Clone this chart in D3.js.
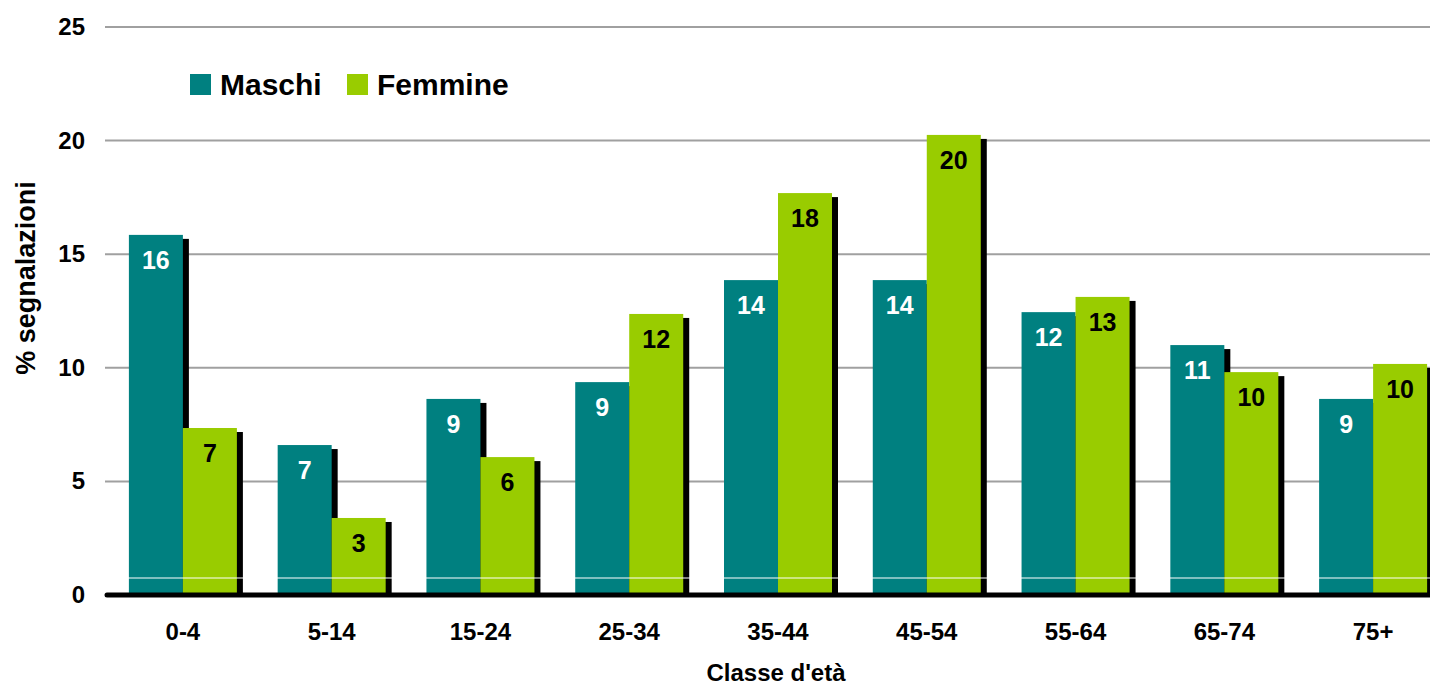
<!DOCTYPE html>
<html>
<head>
<meta charset="UTF-8">
<title>Segnalazioni per classe d'età</title>
<script src="https://cdn.jsdelivr.net/npm/d3@7"></script>
<style>
  body { margin: 0; background: #fff; }
  text { font-family: "Liberation Sans", Arial, sans-serif; font-weight: bold; }
</style>
</head>
<body>
<script>
var categories = ["0-4", "5-14", "15-24", "25-34", "35-44", "45-54", "55-64", "65-74", "75+"];
var series = ["Maschi", "Femmine"];
var maschi = [15.85, 6.6, 8.63, 9.37, 13.86, 13.86, 12.45, 11.0, 8.63];
var femmine = [7.35, 3.39, 6.07, 12.37, 17.69, 20.25, 13.12, 9.81, 10.17];
var yTicks = [0, 5, 10, 15, 20, 25];

var colors = { Maschi: "#008080", Femmine: "#99cc00" };
var labelColors = { Maschi: "#ffffff", Femmine: "#000000" };

var w = 1430, h = 688;
var svg = d3.select("body").append("svg")
    .attr("width", w)
    .attr("height", h);

var x = d3.scaleBand().domain(categories).range([108.5, 1447.5]);
var x1 = d3.scaleBand().domain(series)
    .range([x.bandwidth() / 2 - 54, x.bandwidth() / 2 + 54]);
var y = d3.scaleLinear().domain([0, 25]).range([595, 27]);

// gridlines
svg.append("g").selectAll("line")
    .data(yTicks.filter(function(d) { return d > 0; }))
    .enter().append("line")
    .attr("x1", 105).attr("x2", w)
    .attr("y1", function(d) { return y(d); })
    .attr("y2", function(d) { return y(d); })
    .style("stroke", "#a0a0a0")
    .style("stroke-width", 2);

// y axis labels
svg.append("g").selectAll("text")
    .data(yTicks)
    .enter().append("text")
    .attr("x", 85)
    .attr("y", function(d) { return y(d) + 8; })
    .attr("text-anchor", "end")
    .style("font-size", "24px")
    .text(function(d) { return d; });

var rows = categories.map(function(c, i) {
    return { cat: c, values: [
        { s: "Maschi", v: maschi[i] },
        { s: "Femmine", v: femmine[i] }
    ] };
});

var groups = svg.append("g").selectAll("g")
    .data(rows)
    .enter().append("g")
    .attr("transform", function(d) { return "translate(" + x(d.cat) + ",0)"; });

// shadows first, then bars (femmine covers maschi shadow)
groups.each(function(d) {
    var g = d3.select(this);
    d.values.forEach(function(b) {
        g.append("rect")
            .attr("x", x1(b.s) + 6)
            .attr("y", y(b.v) + 4)
            .attr("width", x1.bandwidth())
            .attr("height", y(0) - y(b.v) - 4)
            .style("fill", "#000");
        g.append("rect")
            .attr("x", x1(b.s))
            .attr("y", y(b.v))
            .attr("width", x1.bandwidth())
            .attr("height", y(0) - y(b.v))
            .style("fill", colors[b.s]);
    });
    d.values.forEach(function(b) {
        g.append("text")
            .attr("x", x1(b.s) + x1.bandwidth() / 2)
            .attr("y", y(b.v) + 34)
            .attr("text-anchor", "middle")
            .style("font-size", "25px")
            .style("fill", labelColors[b.s])
            .text(Math.round(b.v));
    });
});

// thin white line across bars near base
svg.append("line")
    .attr("x1", 105).attr("x2", w)
    .attr("y1", 578).attr("y2", 578)
    .style("stroke", "#fff")
    .style("stroke-width", 1.2);

// zero axis
svg.append("line")
    .attr("x1", 107).attr("x2", w + 5)
    .attr("y1", y(0)).attr("y2", y(0))
    .style("stroke", "#000")
    .style("stroke-width", 5)
    .style("stroke-linecap", "round");

// category labels
svg.append("g").selectAll("text")
    .data(categories)
    .enter().append("text")
    .attr("x", function(d) { return x(d) + x.bandwidth() / 2; })
    .attr("y", 640)
    .attr("text-anchor", "middle")
    .style("font-size", "24px")
    .text(function(d) { return d; });

// axis titles
svg.append("text")
    .attr("x", 776).attr("y", 681)
    .attr("text-anchor", "middle")
    .style("font-size", "24px")
    .text("Classe d'età");

svg.append("text")
    .attr("transform", "translate(35,278) rotate(-90)")
    .attr("text-anchor", "middle")
    .style("font-size", "27px")
    .text("% segnalazioni");

// legend
var legend = svg.append("g").selectAll("g")
    .data(series)
    .enter().append("g")
    .attr("transform", function(d, i) { return "translate(" + [190, 347][i] + ",74)"; });
legend.append("rect")
    .attr("width", 21).attr("height", 21)
    .style("fill", function(d) { return colors[d]; });
legend.append("text")
    .attr("x", 30).attr("y", 21)
    .style("font-size", "30px")
    .text(function(d) { return d; });
</script>
</body>
</html>
